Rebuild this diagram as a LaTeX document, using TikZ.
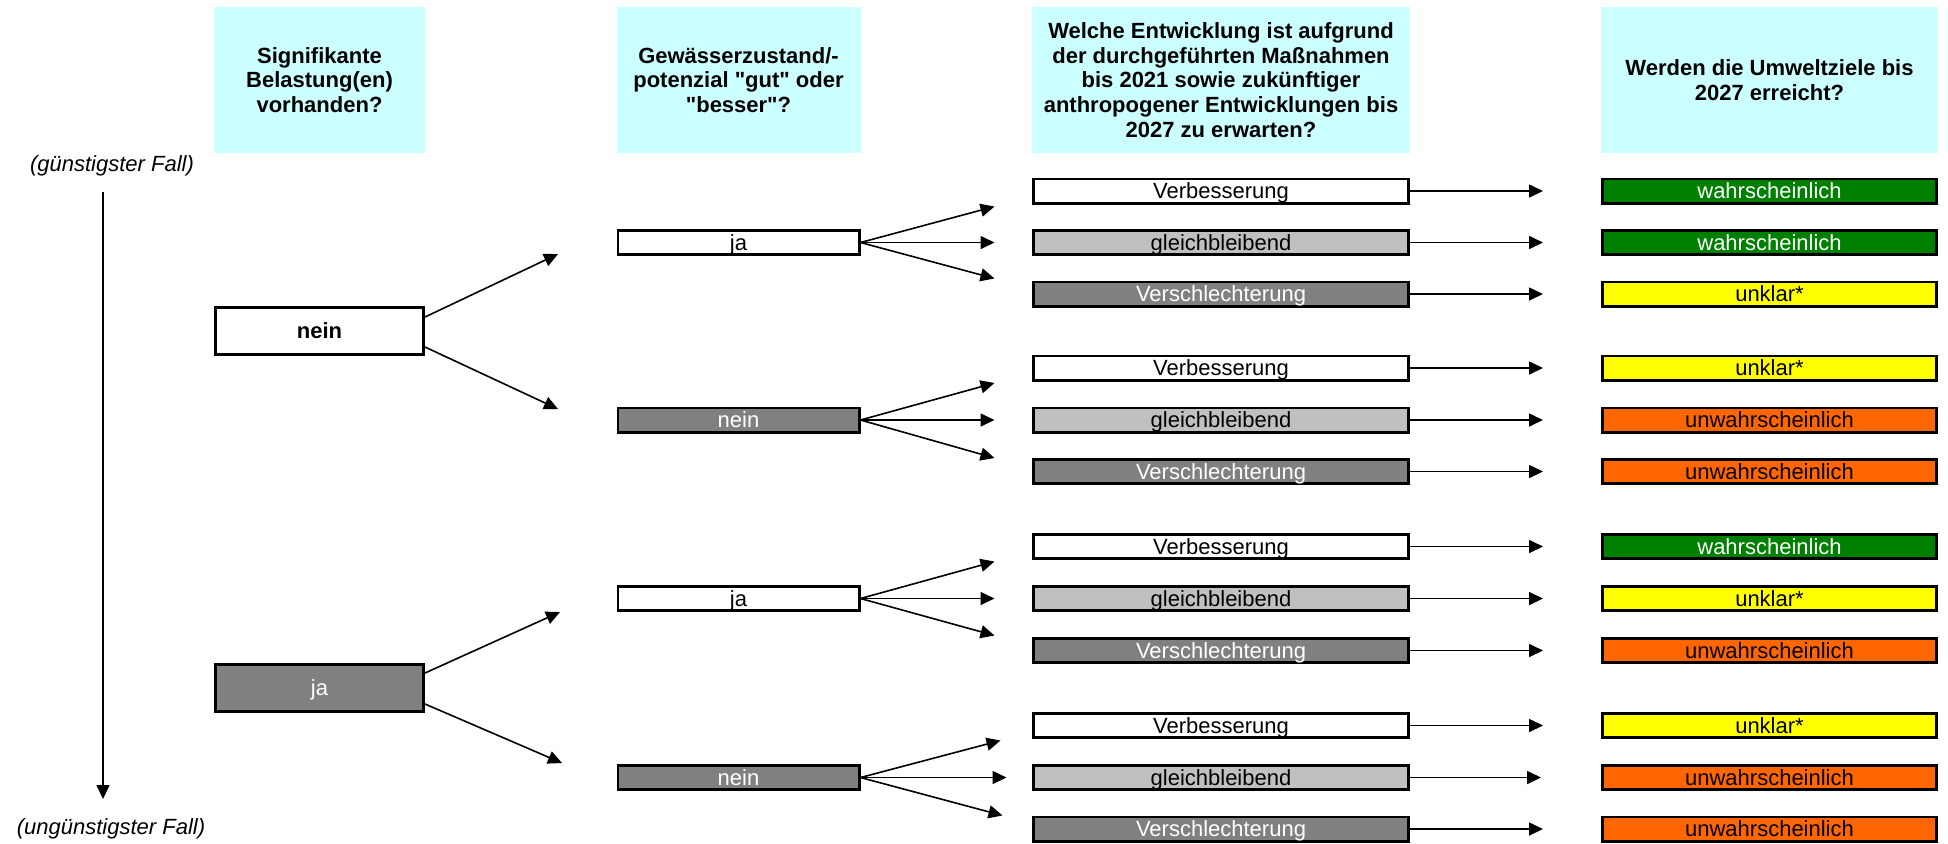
\documentclass[tikz,border=0pt]{standalone}
\usepackage{fontspec}
\setmainfont{Liberation Sans}[Ligatures=TeXOff]
\usetikzlibrary{arrows.meta,positioning}

\definecolor{headcyan}{RGB}{204,255,255}
\definecolor{lightgrey}{RGB}{192,192,192}
\definecolor{darkgrey}{RGB}{128,128,128}
\definecolor{okgreen}{RGB}{0,128,0}
\definecolor{warnyellow}{RGB}{255,255,0}
\definecolor{badorange}{RGB}{255,102,0}

\begin{document}
\begin{tikzpicture}[x=0.5pt,y=-0.5pt]
\tikzset{head/.style = {fill=headcyan, minimum height=73pt, inner sep=0pt, align=center, font=\bfseries\fontsize{11}{12.4}\selectfont},
  box/.style = {draw=black, line width=1.4pt, inner sep=0pt, minimum height=12.1pt, text height=7.9pt, text depth=0pt, font=\fontsize{11}{13}\selectfont},
  bigbox/.style = {box, minimum height=23.6pt, minimum width=104.1pt},
  colz/.style = {box, minimum width=120.6pt},
  cole/.style = {box, minimum width=187.6pt},
  colu/.style = {box, minimum width=167.1pt},
  plain/.style = {fill=white},
  grey/.style = {fill=lightgrey},
  dark/.style = {fill=darkgrey, text=white},
  good/.style = {fill=okgreen, text=white},
  maybe/.style = {fill=warnyellow},
  bad/.style = {fill=badorange},
  arr/.style = {-{Triangle[length=7pt,width=6.5pt]}, line width=0.8pt},
  case/.style = {font=\itshape\fontsize{11}{13}\selectfont}}
\def\cs{319.5}
\def\cz{738.5}
\def\ce{1221}
\def\cu{1769.5}

\useasboundingbox (0,0) rectangle (1948,843);

% headers
\node[head, minimum width=105.5pt] (hs) at (\cs,80) {Signifikante\\Belastung(en)\\vorhanden?};
\node[head, minimum width=122pt] (hz) at (\cz,80) {Gewässerzustand/-\\potenzial "gut" oder\\"besser"?};
\node[head, minimum width=189pt] (he) at (\ce,80) {Welche Entwicklung ist aufgrund\\der durchgeführten Maßnahmen\\bis 2021 sowie zukünftiger\\anthropogener Entwicklungen bis\\2027 zu erwarten?};
\node[head, minimum width=168.5pt] (hu) at (\cu,80) {Werden die Umweltziele bis\\2027 erreicht?};

% best / worst case
\node[case] (best) at (112,166) {(günstigster Fall)};
\node[case] (worst) at (111,829) {(ungünstigster Fall)};
\coordinate (v1) at (103,192);
\coordinate (v2) at (103,799);
\draw[arr] (v1) -- (v2);

% significant pressures
\node[bigbox, plain, font=\bfseries\fontsize{11}{13}\selectfont] (s1) at (\cs,331) {nein};
\node[bigbox, dark] (s2) at (\cs,688) {ja};

% status good
\node[colz, plain] (z1) at (\cz,242.5) {ja};
\node[colz, dark] (z2) at (\cz,420) {nein};
\node[colz, plain] (z3) at (\cz,598.5) {ja};
\node[colz, dark] (z4) at (\cz,777.5) {nein};

\path (s1.east) -- +(133,-77) coordinate (r11);
\path (s1.east) -- +(133,78) coordinate (r12);
\path (s2.east) -- +(135,-76) coordinate (r21);
\path (s2.east) -- +(137,75) coordinate (r22);
\draw[arr] ([yshift=7pt]s1.east) -- (r11);
\draw[arr] ([yshift=-8pt]s1.east) -- (r12);
\draw[arr] ([yshift=7.5pt]s2.east) -- (r21);
\draw[arr] ([yshift=-8pt]s2.east) -- (r22);

% development
\node[cole, plain] (e11) at (\ce,191) {Verbesserung};
\node[cole, grey] (e12) at (\ce,242.5) {gleichbleibend};
\node[cole, dark] (e13) at (\ce,294) {Verschlechterung};
\node[cole, plain] (e21) at (\ce,368) {Verbesserung};
\node[cole, grey] (e22) at (\ce,420) {gleichbleibend};
\node[cole, dark] (e23) at (\ce,471.5) {Verschlechterung};
\node[cole, plain] (e31) at (\ce,546.5) {Verbesserung};
\node[cole, grey] (e32) at (\ce,598.5) {gleichbleibend};
\node[cole, dark] (e33) at (\ce,650.5) {Verschlechterung};
\node[cole, plain] (e41) at (\ce,725.5) {Verbesserung};
\node[cole, grey] (e42) at (\ce,777.5) {gleichbleibend};
\node[cole, dark] (e43) at (\ce,829) {Verschlechterung};

\path (z1.east) -- +(134,-36) coordinate (t11);
\path (z1.east) -- +(134,0) coordinate (t12);
\path (z1.east) -- +(134,36) coordinate (t13);
\path (z2.east) -- +(134,-37) coordinate (t21);
\path (z2.east) -- +(134,0) coordinate (t22);
\path (z2.east) -- +(134,38) coordinate (t23);
\path (z3.east) -- +(134,-37) coordinate (t31);
\path (z3.east) -- +(134,0) coordinate (t32);
\path (z3.east) -- +(134,37) coordinate (t33);
\path (z4.east) -- +(140,-37) coordinate (t41);
\path (z4.east) -- +(146,0) coordinate (t42);
\path (z4.east) -- +(142,38) coordinate (t43);
\draw[arr] (z1.east) -- (t11);
\draw[arr] (z1.east) -- (t12);
\draw[arr] (z1.east) -- (t13);
\draw[arr] (z2.east) -- (t21);
\draw[arr] (z2.east) -- (t22);
\draw[arr] (z2.east) -- (t23);
\draw[arr] (z3.east) -- (t31);
\draw[arr] (z3.east) -- (t32);
\draw[arr] (z3.east) -- (t33);
\draw[arr] (z4.east) -- (t41);
\draw[arr] (z4.east) -- (t42);
\draw[arr] (z4.east) -- (t43);

% environmental objectives
\node[colu, good] (u11) at (\cu,191) {wahrscheinlich};
\node[colu, good] (u12) at (\cu,242.5) {wahrscheinlich};
\node[colu, maybe] (u13) at (\cu,294) {unklar*};
\node[colu, maybe] (u21) at (\cu,368) {unklar*};
\node[colu, bad] (u22) at (\cu,420) {unwahrscheinlich};
\node[colu, bad] (u23) at (\cu,471.5) {unwahrscheinlich};
\node[colu, good] (u31) at (\cu,546.5) {wahrscheinlich};
\node[colu, maybe] (u32) at (\cu,598.5) {unklar*};
\node[colu, bad] (u33) at (\cu,650.5) {unwahrscheinlich};
\node[colu, maybe] (u41) at (\cu,725.5) {unklar*};
\node[colu, bad] (u42) at (\cu,777.5) {unwahrscheinlich};
\node[colu, bad] (u43) at (\cu,829) {unwahrscheinlich};

\path (e11.east) -- +(133,0) coordinate (f11);
\path (e12.east) -- +(133,0) coordinate (f12);
\path (e13.east) -- +(133,0) coordinate (f13);
\path (e21.east) -- +(133,0) coordinate (f21);
\path (e22.east) -- +(133,0) coordinate (f22);
\path (e23.east) -- +(133,0) coordinate (f23);
\path (e31.east) -- +(133,0) coordinate (f31);
\path (e32.east) -- +(133,0) coordinate (f32);
\path (e33.east) -- +(133,0) coordinate (f33);
\path (e41.east) -- +(133,0) coordinate (f41);
\path (e42.east) -- +(131,0) coordinate (f42);
\path (e43.east) -- +(133,0) coordinate (f43);
\draw[arr] (e11.east) -- (f11);
\draw[arr] (e12.east) -- (f12);
\draw[arr] (e13.east) -- (f13);
\draw[arr] (e21.east) -- (f21);
\draw[arr] (e22.east) -- (f22);
\draw[arr] (e23.east) -- (f23);
\draw[arr] (e31.east) -- (f31);
\draw[arr] (e32.east) -- (f32);
\draw[arr] (e33.east) -- (f33);
\draw[arr] (e41.east) -- (f41);
\draw[arr] (e42.east) -- (f42);
\draw[arr] (e43.east) -- (f43);
\end{tikzpicture}
\end{document}
